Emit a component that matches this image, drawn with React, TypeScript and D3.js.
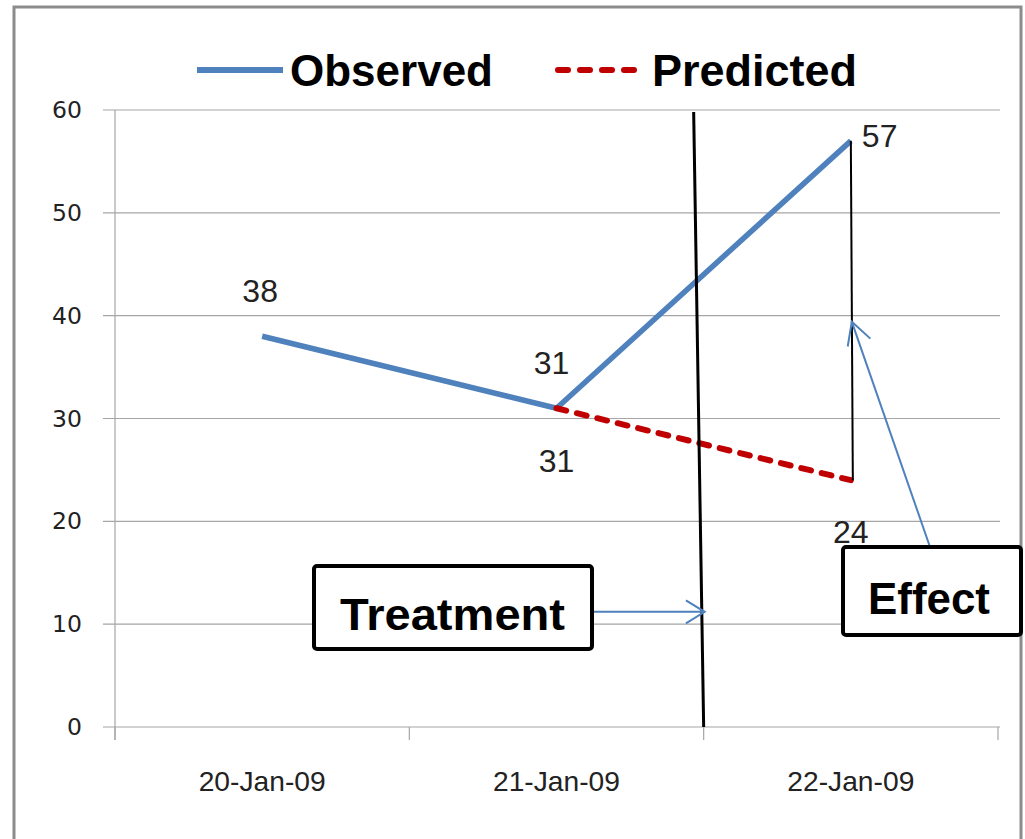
import React from "react";
import * as d3 from "d3";

// Daily counts around a treatment date
const dates = ["20-Jan-09", "21-Jan-09", "22-Jan-09"];
const observed = [38, 31, 57];
const predictedDates = ["21-Jan-09", "22-Jan-09"];
const predicted = [31, 24];
const yTicks = [0, 10, 20, 30, 40, 50, 60];

const seriesNames = ["Observed", "Predicted"];
const treatmentArrowValue = 11.2;
const effectArrowValue = 39.4;

const W = 1025;
const H = 839;
const plot = { left: 115, right: 998, top: 110, bottom: 727 };

const BLUE = "#4F81BD";
const RED = "#C00000";
const GRID = "#a6a6a6";
const SANS = "'Liberation Sans', Arial, sans-serif";
const VERDANA = "'DejaVu Sans', Verdana, sans-serif";

export default function App() {
  const x = d3.scaleBand<string>().domain(dates).range([plot.left, plot.right]).padding(0);
  const y = d3.scaleLinear().domain([0, 60]).range([plot.bottom, plot.top]);
  const cx = (d: string) => (x(d) as number) + x.bandwidth() / 2;

  const line = d3
    .line<[string, number]>()
    .x((d) => cx(d[0]))
    .y((d) => y(d[1]));

  const obsPts: [string, number][] = dates.map((d, i) => [d, observed[i]]);
  const predPts: [string, number][] = predictedDates.map((d, i) => [d, predicted[i]]);

  // category boundaries for x ticks
  const boundaries = [...dates.map((d) => x(d) as number), plot.right];

  // treatment marker sits on the boundary before the last day
  const treatX = x(dates[2]) as number;
  const treatTopX = treatX - 10;

  // effect bracket at last day
  const effX = cx(dates[2]);

  // open chevron arrowhead
  const chevron = (x1: number, y1: number, x2: number, y2: number, len = 24, ang = 0.45) => {
    const a = Math.atan2(y1 - y2, x1 - x2);
    const p1 = [x2 + len * Math.cos(a + ang), y2 + len * Math.sin(a + ang)];
    const p2 = [x2 + len * Math.cos(a - ang), y2 + len * Math.sin(a - ang)];
    return `M${p1[0]},${p1[1]}L${x2},${y2}L${p2[0]},${p2[1]}`;
  };

  const tArrowY = y(treatmentArrowValue);
  const tBox = { x: 314, y: 566, w: 278, h: 83 };
  const eBox = { x: 843, y: 547, w: 178, h: 88 };
  const eTipX = effX + 1;
  const eTipY = y(effectArrowValue);
  const eStartX = 930;
  const eStartY = eBox.y;

  return (
    <svg
      width={W}
      height={H}
      viewBox={`0 0 ${W} ${H}`}
      style={{ position: "absolute", left: 0, top: 0, background: "#fff" }}
    >
      {/* chart frame */}
      <rect x={14} y={7} width={1007} height={860} fill="#fff" stroke="#8c8c8c" strokeWidth={3} />

      {/* legend */}
      <g>
        <line x1={197} x2={283} y1={70} y2={70} stroke={BLUE} strokeWidth={6} />
        <text x={290} y={86} fontFamily={SANS} fontWeight="bold" fontSize={45} textLength={203} lengthAdjust="spacingAndGlyphs">
          {seriesNames[0]}
        </text>
        <line x1={558} x2={643} y1={70} y2={70} stroke={RED} strokeWidth={6} strokeDasharray="10 12" strokeLinecap="round" />
        <text x={652} y={86} fontFamily={SANS} fontWeight="bold" fontSize={45} textLength={205} lengthAdjust="spacingAndGlyphs">
          {seriesNames[1]}
        </text>
      </g>

      {/* gridlines */}
      {yTicks.map((t) => (
        <line key={t} x1={plot.left - 12} x2={plot.right + 2} y1={y(t)} y2={y(t)} stroke={GRID} strokeWidth={1.2} />
      ))}

      {/* y axis */}
      <line x1={plot.left} x2={plot.left} y1={plot.top} y2={plot.bottom + 13} stroke={GRID} strokeWidth={1.2} />
      {yTicks.map((t) => (
        <text
          key={t}
          x={82}
          y={y(t)}
          textAnchor="end"
          dominantBaseline="central"
          fontFamily={VERDANA}
          fontSize={23.5}
          fill="#222"
        >
          {t}
        </text>
      ))}

      {/* x axis ticks and labels */}
      {boundaries.map((b, i) => (
        <line key={i} x1={b} x2={b} y1={plot.bottom} y2={plot.bottom + 13} stroke={GRID} strokeWidth={1.2} />
      ))}
      {dates.map((d) => (
        <text
          key={d}
          x={cx(d)}
          y={791}
          textAnchor="middle"
          fontFamily={SANS}
          fontSize={28}
          fill="#222"
          textLength={127}
          lengthAdjust="spacingAndGlyphs"
        >
          {d}
        </text>
      ))}

      {/* series */}
      <path d={line(obsPts) ?? ""} fill="none" stroke={BLUE} strokeWidth={5.5} strokeLinejoin="round" />
      <path d={line(predPts) ?? ""} fill="none" stroke={RED} strokeWidth={6} strokeDasharray="10 11" strokeLinecap="round" />

      {/* treatment line */}
      <line x1={treatTopX} y1={plot.top + 2} x2={treatX} y2={plot.bottom} stroke="#000" strokeWidth={3} />

      {/* effect bracket */}
      <line x1={effX} y1={y(observed[2])} x2={effX + 2} y2={y(predicted[1])} stroke="#000" strokeWidth={2} />

      {/* data labels */}
      <g fontFamily={SANS} fontSize={32} fill="#222">
        <text x={cx(dates[0]) - 2} y={y(observed[0]) - 34} textAnchor="middle">
          {observed[0]}
        </text>
        <text x={cx(dates[1]) - 5} y={y(observed[1]) - 34} textAnchor="middle">
          {observed[1]}
        </text>
        <text x={cx(predictedDates[0])} y={y(predicted[0]) + 64} textAnchor="middle">
          {predicted[0]}
        </text>
        <text x={cx(dates[2]) + 11} y={y(observed[2]) + 6}>
          {observed[2]}
        </text>
        <text x={cx(predictedDates[1])} y={y(predicted[1]) + 63} textAnchor="middle">
          {predicted[1]}
        </text>
      </g>

      {/* treatment callout */}
      <line x1={tBox.x + tBox.w} y1={tArrowY} x2={treatX + 1} y2={tArrowY} stroke={BLUE} strokeWidth={2} />
      <path d={chevron(tBox.x + tBox.w, tArrowY, treatX + 1, tArrowY, 22, 0.55)} fill="none" stroke={BLUE} strokeWidth={2} />
      <rect x={tBox.x} y={tBox.y} width={tBox.w} height={tBox.h} rx={3} fill="#fff" stroke="#000" strokeWidth={4} />
      <text x={340} y={630} fontFamily={SANS} fontWeight="bold" fontSize={45} textLength={225} lengthAdjust="spacingAndGlyphs">
        Treatment
      </text>

      {/* effect callout */}
      <line x1={eStartX} y1={eStartY} x2={eTipX} y2={eTipY} stroke={BLUE} strokeWidth={2} />
      <path d={chevron(eStartX, eStartY, eTipX, eTipY, 25, 0.5)} fill="none" stroke={BLUE} strokeWidth={2} />
      <rect x={eBox.x} y={eBox.y} width={eBox.w} height={eBox.h} rx={3} fill="#fff" stroke="#000" strokeWidth={4} />
      <text x={868} y={614} fontFamily={SANS} fontWeight="bold" fontSize={45} textLength={122} lengthAdjust="spacingAndGlyphs">
        Effect
      </text>
    </svg>
  );
}
